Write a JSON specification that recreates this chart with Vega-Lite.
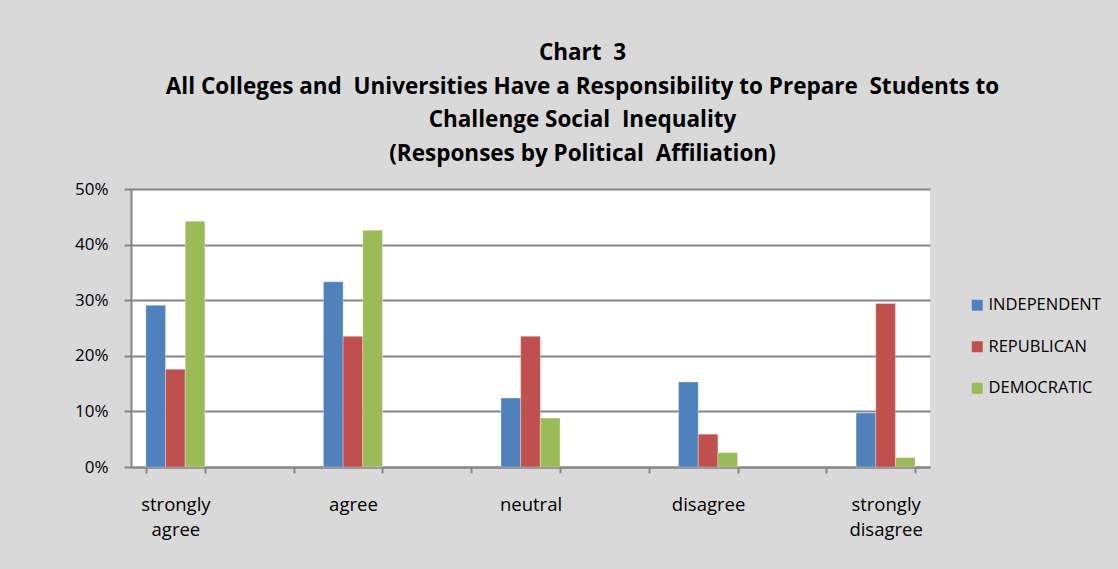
{
  "$schema": "https://vega.github.io/schema/vega-lite/v6.json",
  "width": 799,
  "height": 278,
  "autosize": {"type": "none"},
  "padding": {"left": 131, "top": 189, "right": 188, "bottom": 102},
  "background": "#d9d9d9",
  "title": {
    "text": ["Chart \u00a03", "All Colleges and \u00a0Universities Have a Responsibility to Prepare \u00a0Students to", "Challenge Social \u00a0Inequality", "(Responses by Political \u00a0Affiliation)"],
    "anchor": "middle",
    "frame": "group",
    "dx": 52,
    "offset": 15,
    "font": "Open Sans",
    "fontSize": 22.5,
    "fontWeight": "bold",
    "color": "#000000",
    "lineHeight": 33.5
  },
  "data": {
    "values": [
      {"response": "strongly agree", "party": "INDEPENDENT", "pct": 0.291},
      {"response": "strongly agree", "party": "REPUBLICAN", "pct": 0.176},
      {"response": "strongly agree", "party": "DEMOCRATIC", "pct": 0.442},
      {"response": "agree", "party": "INDEPENDENT", "pct": 0.333},
      {"response": "agree", "party": "REPUBLICAN", "pct": 0.235},
      {"response": "agree", "party": "DEMOCRATIC", "pct": 0.426},
      {"response": "neutral", "party": "INDEPENDENT", "pct": 0.124},
      {"response": "neutral", "party": "REPUBLICAN", "pct": 0.235},
      {"response": "neutral", "party": "DEMOCRATIC", "pct": 0.088},
      {"response": "disagree", "party": "INDEPENDENT", "pct": 0.153},
      {"response": "disagree", "party": "REPUBLICAN", "pct": 0.059},
      {"response": "disagree", "party": "DEMOCRATIC", "pct": 0.026},
      {"response": "strongly disagree", "party": "INDEPENDENT", "pct": 0.097},
      {"response": "strongly disagree", "party": "REPUBLICAN", "pct": 0.294},
      {"response": "strongly disagree", "party": "DEMOCRATIC", "pct": 0.017}
    ]
  },
  "mark": {"type": "bar", "stroke": "#ffffff", "strokeWidth": 0.6, "strokeOpacity": 0.5},
  "encoding": {
    "x": {
      "field": "response",
      "type": "nominal",
      "scale": {
        "domain": ["strongly agree", "_1", "agree", "_2", "neutral", "_3", "disagree", "_4", "strongly disagree"],
        "paddingInner": 0.335,
        "paddingOuter": 0.1675
      },
      "axis": {
        "title": null,
        "labelAngle": 0,
        "labelExpr": "!isString(datum.value) || test(/^_/, datum.value) ? '' : split(datum.value, ' ')",
        "labelFont": "Open Sans",
        "labelFontSize": 18.5,
        "labelColor": "#000000",
        "labelPadding": 22,
        "labelLineHeight": 25,
        "tickBand": "extent",
        "tickSize": 6,
        "tickColor": "#868686",
        "tickWidth": 2,
        "domainColor": "#868686",
        "domainWidth": 2
      }
    },
    "xOffset": {"field": "party", "type": "nominal", "sort": ["INDEPENDENT", "REPUBLICAN", "DEMOCRATIC"]},
    "y": {
      "field": "pct",
      "type": "quantitative",
      "scale": {"domain": [0, 0.5], "nice": false},
      "axis": {
        "title": null,
        "values": [0, 0.1, 0.2, 0.3, 0.4, 0.5],
        "format": ".0%",
        "labelFont": "Open Sans",
        "labelFontSize": 17,
        "labelColor": "#000000",
        "labelPadding": 16,
        "tickSize": 7,
        "tickColor": "#868686",
        "tickWidth": 2,
        "domainColor": "#868686",
        "domainWidth": 2,
        "grid": true,
        "gridColor": "#868686",
        "gridWidth": 2
      }
    },
    "color": {
      "field": "party",
      "type": "nominal",
      "sort": ["INDEPENDENT", "REPUBLICAN", "DEMOCRATIC"],
      "scale": {"domain": ["INDEPENDENT", "REPUBLICAN", "DEMOCRATIC"], "range": ["#4f81bd", "#c0504d", "#9bbb59"]},
      "legend": {
        "title": null,
        "orient": "none",
        "legendX": 838,
        "legendY": 108,
        "padding": 0,
        "symbolType": "square",
        "symbolSize": 121,
        "symbolStrokeWidth": 0,
        "symbolOffset": 0,
        "labelFont": "Open Sans",
        "labelFontSize": 16.5,
        "labelColor": "#000000",
        "labelOffset": 3,
        "rowPadding": 24.5
      }
    }
  },
  "config": {
    "view": {"fill": "#ffffff", "stroke": null}
  }
}
